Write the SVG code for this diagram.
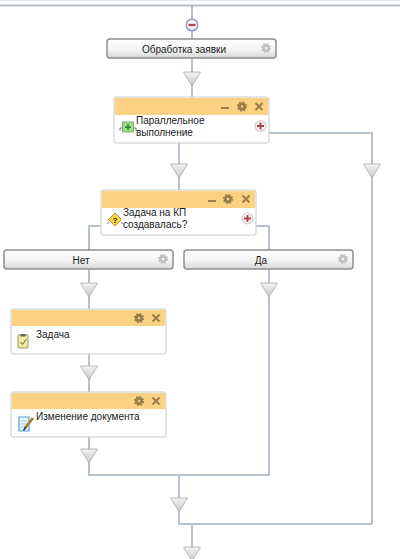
<svg xmlns="http://www.w3.org/2000/svg" width="400" height="559" viewBox="0 0 400 559">
<defs>
<linearGradient id="btn" x1="0" y1="0" x2="0" y2="1"><stop offset="0" stop-color="#ffffff"/><stop offset="0.55" stop-color="#f4f4f4"/><stop offset="1" stop-color="#d8d8d8"/></linearGradient>
<linearGradient id="tri" x1="0" y1="0" x2="0" y2="1"><stop offset="0" stop-color="#f4f4f4"/><stop offset="1" stop-color="#c6c6c6"/></linearGradient>
<g id="gear"><circle r="2.600" fill="none" stroke-width="2.800"/><circle r="4.300" fill="none" stroke-width="1.600" stroke-dasharray="1.700 1.670"/></g>
<path id="t" d="M-8.500 0H8.500L0 14Z" fill="url(#tri)" stroke="#a8a8a8" stroke-width="0.800"/>
<g id="plus"><circle r="5.500" fill="#f4f0f0" stroke="#cfcfcf" stroke-width="1.200"/><path d="M-3.500 0H3.500M0-3.500V3.500" stroke="#b5404f" stroke-width="1.800"/></g>
<g id="x"><path d="M-3.500-3.500L3.500 3.500M3.500-3.500L-3.500 3.500" stroke="#9a7d48" stroke-width="2"/></g>
</defs>
<style>
text{font-family:"Liberation Sans",Arial,sans-serif;font-size:10px;fill:#1a1a1a}
.m{text-anchor:middle}
.l{fill:none;stroke:#b5c2ce;stroke-width:2}
.b{fill:url(#btn);stroke:#8f8f8f;stroke-width:1.500}
.n{fill:#ffffff;stroke:#c9c9c9;stroke-width:1}
.h{fill:#fbd283}
.gb use{stroke:#c2c2c2}
.gh use{stroke:#9a7d48}
</style>
<rect x="0" y="0" width="400" height="1" fill="#e4e8ec"/>
<g id="connectors">
<path class="l" d="M0 5.500H400M192 5.500V97M179 143V190M114 226H89V250M256 226H269V250M89 269V309M89 354V392M89 437V475H269V269M269 133H372V524M179 475V524H372M192 524V559"/>
<use href="#t" x="192" y="72"/>
<use href="#t" x="179" y="164"/>
<use href="#t" x="372" y="164"/>
<use href="#t" x="89" y="283"/>
<use href="#t" x="269" y="283"/>
<use href="#t" x="89" y="366"/>
<use href="#t" x="89" y="449"/>
<use href="#t" x="179" y="498"/>
<use href="#t" x="192" y="547"/>
</g>
<g id="collapse"><circle cx="192" cy="25" r="5.800" fill="#f5f5f8" stroke="#8f9fc0" stroke-width="1.500"/><rect x="188.500" y="23.800" width="7" height="2.400" fill="#b5404f"/></g>
<g id="start-button"><rect class="b" x="107" y="39" width="169" height="19" rx="3"/><text class="m" x="184" y="53">Обработка заявки</text><g class="gb"><use href="#gear" x="266" y="48"/></g></g>
<g id="parallel"><rect class="n" x="114" y="97" width="155" height="46" rx="2"/><rect class="h" x="115" y="98" width="153" height="17"/>
<g class="gh"><path d="M221 108H229" stroke="#9a7d48" stroke-width="2"/><use href="#gear" x="242" y="106.500"/></g><use href="#x" x="259" y="106.500"/><use href="#plus" x="260.500" y="126"/>
<path d="M120 131V128H122M134 128H136V131" fill="none" stroke="#555" stroke-width="0.800"/><rect x="122.500" y="122" width="11" height="10" fill="#9fdc8c" stroke="#62a850" stroke-width="0.800"/><path d="M125 127H131M128 124V130" stroke="#1f7a1f" stroke-width="1.300"/>
<text x="136" y="124">Параллельное</text><text x="136" y="136">выполнение</text></g>
<g id="condition"><rect class="n" x="101" y="190" width="155" height="45" rx="2"/><rect class="h" x="102" y="191" width="153" height="17"/>
<g class="gh"><path d="M208 201H216" stroke="#9a7d48" stroke-width="2"/><use href="#gear" x="228" y="199"/></g><use href="#x" x="246" y="199"/><use href="#plus" x="247.500" y="218.500"/>
<path d="M108 224V222M122 224V222" fill="none" stroke="#555" stroke-width="0.800"/><path d="M115 213L121.500 219.500L115 226L108.500 219.500Z" fill="#f7d83f" stroke="#a8862a" stroke-width="0.900"/><text class="m" x="115" y="223" style="font-size:8px;font-weight:bold">?</text>
<text x="123" y="216">Задача на КП</text><text x="123" y="228">создавалась?</text></g>
<g id="no-button"><rect class="b" x="4" y="250" width="169" height="19" rx="3"/><text class="m" x="81" y="264">Нет</text><g class="gb"><use href="#gear" x="163" y="259"/></g></g>
<g id="yes-button"><rect class="b" x="184" y="250" width="169" height="19" rx="3"/><text class="m" x="261" y="264">Да</text><g class="gb"><use href="#gear" x="343" y="259"/></g></g>
<g id="task"><rect class="n" x="11" y="309" width="155" height="45" rx="2"/><rect class="h" x="12" y="310" width="153" height="16"/>
<g class="gh"><use href="#gear" x="139" y="318"/></g><use href="#x" x="156" y="318"/>
<rect x="18" y="335" width="10" height="13" rx="1" fill="#f3eb9f" stroke="#8e8a55" stroke-width="0.900"/><rect x="20.500" y="334" width="5" height="2.500" fill="#666"/><path d="M20.500 342L22.500 344.500L26 339.500" fill="none" stroke="#444" stroke-width="0.900"/>
<text x="36" y="338">Задача</text></g>
<g id="edit-document"><rect class="n" x="11" y="392" width="155" height="45" rx="2"/><rect class="h" x="12" y="393" width="153" height="16"/>
<g class="gh"><use href="#gear" x="139" y="401"/></g><use href="#x" x="156" y="401"/>
<path d="M19 417H29V431H19Z" fill="#e6f3fb" stroke="#4ea3d8" stroke-width="1.200"/><path d="M21 421H27M21 424H27M21 427H27" stroke="#8cc3e4" stroke-width="0.800"/><path d="M33 418L25 428" stroke="#a87b1e" stroke-width="2.600"/><path d="M26 427L23.500 430.500" stroke="#333" stroke-width="1.500"/>
<text x="36" y="420">Изменение документа</text></g>
</svg>
